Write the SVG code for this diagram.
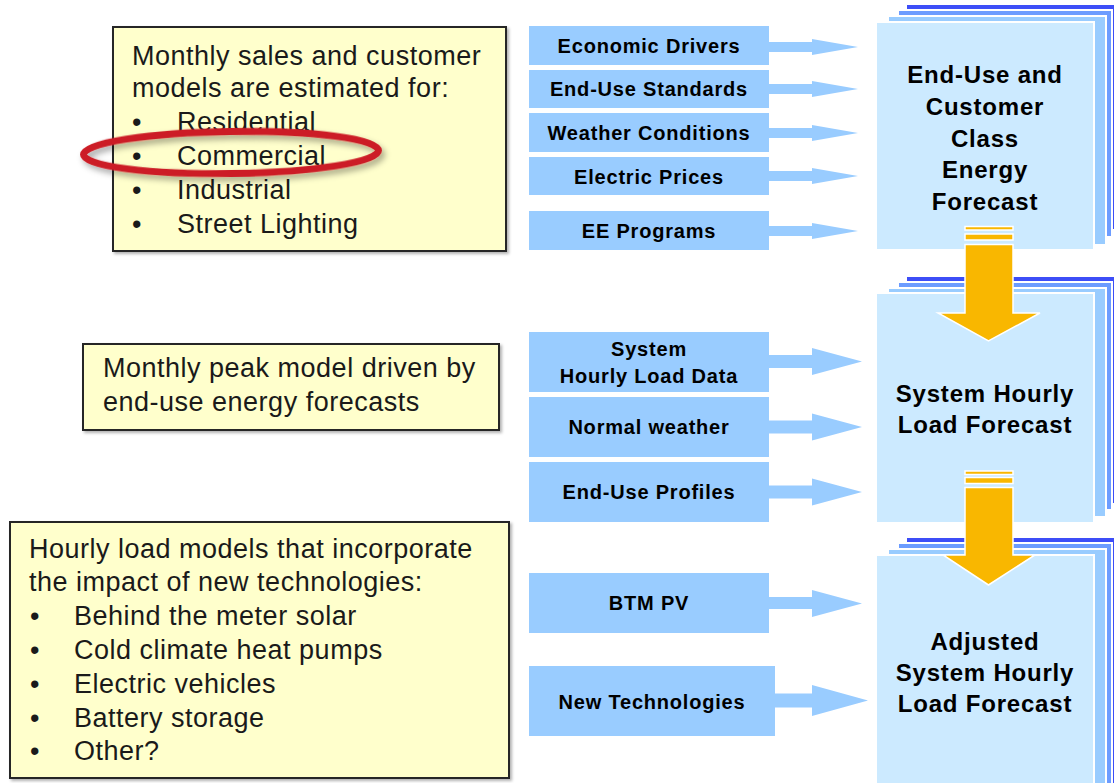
<svg xmlns="http://www.w3.org/2000/svg" width="1114" height="783" viewBox="0 0 1114 783">
  <defs>
    <style>
      .note { fill: #ffffcc; stroke: #262626; stroke-width: 2; }
      .nt { font-family: "Liberation Sans", Arial, sans-serif; font-size: 27px; fill: #1a1a1a; letter-spacing: 0.5px; }
      .inbox { fill: #99ccff; }
      .it { font-family: "Liberation Sans", Arial, sans-serif; font-size: 20px; font-weight: bold; fill: #000; letter-spacing: 0.8px; text-anchor: middle; }
      .l3 { fill: #3d4ef7; stroke: #ffffff; stroke-width: 2; }
      .l2 { fill: #6c9cff; stroke: #ffffff; stroke-width: 2; }
      .l1 { fill: #99ccff; stroke: #ffffff; stroke-width: 2; }
      .main { fill: #cceaff; stroke: #ffffff; stroke-width: 2; }
      .mt { font-family: "Liberation Sans", Arial, sans-serif; font-size: 24px; font-weight: bold; fill: #000; letter-spacing: 0.8px; text-anchor: middle; }
      .feed { fill: #99ccff; }
      .gold { fill: #f9b700; stroke: #ffffff; stroke-width: 1.5; }
    </style>
    <filter id="shadow" x="-5%" y="-5%" width="115%" height="120%">
      <feDropShadow dx="2" dy="2" stdDeviation="1.5" flood-color="#000" flood-opacity="0.3"/>
    </filter>
    <filter id="ringShadow" x="-10%" y="-40%" width="125%" height="190%">
      <feDropShadow dx="3" dy="4" stdDeviation="3" flood-color="#000" flood-opacity="0.35"/>
    </filter>
  </defs>

  <!-- Left notes -->
  <g id="note-monthly-sales">
    <rect class="note" x="113" y="27" width="393" height="224" filter="url(#shadow)"/>
    <text class="nt" x="132" y="65">Monthly sales and customer</text>
    <text class="nt" x="132" y="97">models are estimated for:</text>
    <text class="nt" x="132" y="131">•</text><text class="nt" x="177" y="131">Residential</text>
    <text class="nt" x="132" y="165">•</text><text class="nt" x="177" y="165">Commercial</text>
    <text class="nt" x="132" y="199">•</text><text class="nt" x="177" y="199">Industrial</text>
    <text class="nt" x="132" y="233">•</text><text class="nt" x="177" y="233">Street Lighting</text>
  </g>

  <g id="highlight-commercial">
    <ellipse cx="231" cy="152.5" rx="147.5" ry="21" fill="none" stroke="#cc1f26" stroke-width="7" transform="rotate(-0.8 231 152.5)" filter="url(#ringShadow)"/>
  </g>

  <g id="note-monthly-peak">
    <rect class="note" x="83" y="344" width="416" height="86" filter="url(#shadow)"/>
    <text class="nt" x="103" y="377">Monthly peak model driven by</text>
    <text class="nt" x="103" y="411">end-use energy forecasts</text>
  </g>

  <g id="note-hourly-load">
    <rect class="note" x="10" y="522" width="499" height="256" filter="url(#shadow)"/>
    <text class="nt" x="29" y="558">Hourly load models that incorporate</text>
    <text class="nt" x="29" y="591">the impact of new technologies:</text>
    <text class="nt" x="30" y="625">•</text><text class="nt" x="74" y="625">Behind the meter solar</text>
    <text class="nt" x="30" y="659">•</text><text class="nt" x="74" y="659">Cold climate heat pumps</text>
    <text class="nt" x="30" y="693">•</text><text class="nt" x="74" y="693">Electric vehicles</text>
    <text class="nt" x="30" y="727">•</text><text class="nt" x="74" y="727">Battery storage</text>
    <text class="nt" x="30" y="760">•</text><text class="nt" x="74" y="760">Other?</text>
  </g>

  <!-- Input boxes -->
  <g id="in-economic-drivers"><rect class="inbox" x="529" y="26" width="240" height="39"/><text class="it" x="649" y="53">Economic Drivers</text></g>
  <g id="in-end-use-standards"><rect class="inbox" x="529" y="70" width="240" height="38"/><text class="it" x="649" y="96">End-Use Standards</text></g>
  <g id="in-weather-conditions"><rect class="inbox" x="529" y="113" width="240" height="39"/><text class="it" x="649" y="140">Weather Conditions</text></g>
  <g id="in-electric-prices"><rect class="inbox" x="529" y="157" width="240" height="38"/><text class="it" x="649" y="184">Electric Prices</text></g>
  <g id="in-ee-programs"><rect class="inbox" x="529" y="211" width="240" height="39"/><text class="it" x="649" y="238">EE Programs</text></g>

  <g id="in-system-hourly-load-data"><rect class="inbox" x="529" y="332" width="240" height="60"/><text class="it" x="649" y="356">System</text><text class="it" x="649" y="383">Hourly Load Data</text></g>
  <g id="in-normal-weather"><rect class="inbox" x="529" y="397" width="240" height="60"/><text class="it" x="649" y="434">Normal weather</text></g>
  <g id="in-end-use-profiles"><rect class="inbox" x="529" y="462" width="240" height="60"/><text class="it" x="649" y="499">End-Use Profiles</text></g>

  <g id="in-btm-pv"><rect class="inbox" x="529" y="573" width="240" height="60"/><text class="it" x="649" y="610">BTM PV</text></g>
  <g id="in-new-technologies"><rect class="inbox" x="529" y="666" width="246" height="70"/><text class="it" x="652" y="709">New Technologies</text></g>

  <!-- Forecast stacks -->
  <g id="energy-forecast">
    <rect class="l3" x="906" y="4" width="220" height="226"/>
    <rect class="l2" x="898" y="10" width="214" height="227"/>
    <rect class="l1" x="888" y="16" width="218" height="229"/>
    <rect class="main" x="876" y="22" width="218" height="228"/>
    <text class="mt" x="985" y="83">End-Use and</text>
    <text class="mt" x="985" y="115">Customer</text>
    <text class="mt" x="985" y="147">Class</text>
    <text class="mt" x="985" y="178">Energy</text>
    <text class="mt" x="985" y="210">Forecast</text>
  </g>

  <g id="hourly-load-forecast">
    <rect class="l3" x="906" y="276" width="220" height="228"/>
    <rect class="l2" x="898" y="282" width="214" height="228"/>
    <rect class="l1" x="888" y="288" width="218" height="229"/>
    <rect class="main" x="876" y="293" width="218" height="230"/>
    <text class="mt" x="985" y="402">System Hourly</text>
    <text class="mt" x="985" y="433">Load Forecast</text>
  </g>

  <g id="adjusted-load-forecast">
    <rect class="l3" x="906" y="537" width="220" height="260"/>
    <rect class="l2" x="898" y="543" width="214" height="260"/>
    <rect class="l1" x="888" y="549" width="218" height="260"/>
    <rect class="main" x="876" y="555" width="218" height="240"/>
    <text class="mt" x="985" y="650">Adjusted</text>
    <text class="mt" x="985" y="681">System Hourly</text>
    <text class="mt" x="985" y="712">Load Forecast</text>
  </g>

  <!-- Connectors -->
  <g id="connectors">
    <path class="feed" d="M769,42 H812 V39 L858,47 L812,55 V52 H769 Z"/>
    <path class="feed" d="M769,84 H812 V81 L858,89 L812,97 V94 H769 Z"/>
    <path class="feed" d="M769,128 H812 V125 L858,133 L812,141 V138 H769 Z"/>
    <path class="feed" d="M769,171 H812 V168 L858,176 L812,184 V181 H769 Z"/>
    <path class="feed" d="M769,226 H812 V223 L858,231 L812,239 V236 H769 Z"/>

    <path class="feed" d="M769,355 H812 V348 L862,361.5 L812,375 V368 H769 Z"/>
    <path class="feed" d="M769,420.5 H812 V413.5 L862,427 L812,440.5 V433.5 H769 Z"/>
    <path class="feed" d="M769,485.5 H812 V478.5 L862,492 L812,505.5 V498.5 H769 Z"/>

    <path class="feed" d="M769,597 H812 V590 L862,603.5 L812,617 V609 H769 Z"/>
    <path class="feed" d="M775,693.5 H812 V685 L868,700.5 L812,716 V707.5 H775 Z"/>

    <g id="flow-energy-to-hourly">
      <rect class="gold" x="965" y="226.5" width="48" height="3.5"/>
      <rect class="gold" x="965" y="234" width="48" height="6"/>
      <path class="gold" d="M965,244.5 H1013 V313 H1040 L988.5,341 L938,313 H965 Z"/>
    </g>
    <g id="flow-hourly-to-adjusted">
      <rect class="gold" x="965" y="471" width="48" height="3.5"/>
      <rect class="gold" x="965" y="477.5" width="48" height="6"/>
      <path class="gold" d="M965,487.5 H1013 V555 H1035 L988.5,585 L943,555 H965 Z"/>
    </g>
  </g>
</svg>
